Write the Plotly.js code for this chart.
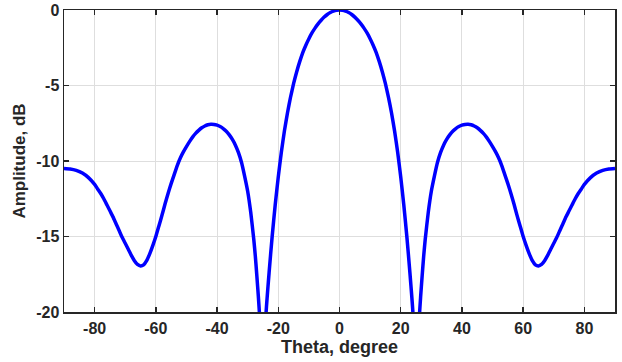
<!DOCTYPE html>
<html>
<head>
<meta charset="utf-8">
<script src="https://cdn.plot.ly/plotly-3.0.1.min.js"></script>
<style>
  html, body { margin: 0; padding: 0; background: #ffffff; }
  #chart { width: 622px; height: 362px; }
</style>
</head>
<body>
<div id="chart"></div>
<script>
// Angle (degrees) and amplitude (dB)
const theta = [
  -90, -88, -86, -84, -82, -80, -79, -78, -77, -76, -75, -74, -73, -72, -71, -70, -69, -68, -67, -66, -65, -64, -63, -62, -61,
  -60, -59, -58, -57, -56, -55, -54, -53, -52, -51, -50, -49, -48, -47, -46, -45, -44, -43, -42, -41,
  -40, -39, -38, -37, -36, -35, -34, -33, -32, -31, -30, -29, -28, -27.5, -27, -26.5, -26, -25.7, -25.4,
  -25, -24.5, -24, -23, -22, -21, -20, -19, -18, -17, -16, -15, -14, -13, -12, -11, -10, -9, -8, -7, -6, -5, -4, -3, -2, -1,
  0,
  1, 2, 3, 4, 5, 6, 7, 8, 9, 10, 11, 12, 13, 14, 15, 16, 17, 18, 19, 20, 21, 22, 23, 24, 24.5, 25,
  25.4, 25.7, 26, 26.5, 27, 27.5, 28, 29, 30, 31, 32, 33, 34, 35, 36, 37, 38, 39, 40,
  41, 42, 43, 44, 45, 46, 47, 48, 49, 50, 51, 52, 53, 54, 55, 56, 57, 58, 59, 60,
  61, 62, 63, 64, 65, 66, 67, 68, 69, 70, 71, 72, 73, 74, 75, 76, 77, 78, 79, 80, 82, 84, 86, 88, 90
];
const amplitudeDb = [
  -10.5, -10.53, -10.62, -10.8, -11.1, -11.55, -11.85, -12.15, -12.5, -12.9, -13.3, -13.7, -14.15, -14.6, -15.05, -15.45, -15.85, -16.25, -16.6, -16.85, -16.95, -16.88, -16.6, -16.15, -15.6,
  -15.0, -14.3, -13.6, -12.85, -12.15, -11.5, -10.9, -10.3, -9.8, -9.4, -9.05, -8.72, -8.42, -8.17, -7.97, -7.8, -7.68, -7.6, -7.57, -7.58,
  -7.63, -7.72, -7.85, -8.03, -8.27, -8.57, -8.95, -9.45, -10.1, -11.0, -12.0, -13.4, -15.2, -16.3, -17.6, -19.0, -20.6, -23, -35,
  -26, -22.8, -20.1, -17.4, -15.0, -12.9, -11.05, -9.42, -8.02, -6.82, -5.78, -4.88, -4.1, -3.42, -2.82, -2.33, -1.9, -1.52, -1.2, -0.92, -0.68, -0.47, -0.3, -0.17, -0.08, -0.02,
  0,
  -0.02, -0.08, -0.17, -0.3, -0.47, -0.68, -0.92, -1.2, -1.52, -1.9, -2.33, -2.82, -3.42, -4.1, -4.88, -5.78, -6.82, -8.02, -9.42, -11.05, -12.9, -15.0, -17.4, -20.1, -22.8, -26,
  -35, -23, -20.6, -19.0, -17.6, -16.3, -15.2, -13.4, -12.0, -11.0, -10.1, -9.45, -8.95, -8.57, -8.27, -8.03, -7.85, -7.72, -7.63,
  -7.58, -7.57, -7.6, -7.68, -7.8, -7.97, -8.17, -8.42, -8.72, -9.05, -9.4, -9.8, -10.3, -10.9, -11.5, -12.15, -12.85, -13.6, -14.3, -15.0,
  -15.6, -16.15, -16.6, -16.88, -16.95, -16.85, -16.6, -16.25, -15.85, -15.45, -15.05, -14.6, -14.15, -13.7, -13.3, -12.9, -12.5, -12.15, -11.85, -11.55, -11.1, -10.8, -10.62, -10.53, -10.5
];
const xTicks = [-80, -60, -40, -20, 0, 20, 40, 60, 80];
const yTicks = [-20, -15, -10, -5, 0];

const axisColor = '#262626';
const gridColor = '#dedede';
const fontFamily = 'Liberation Sans, Arial, Helvetica, sans-serif';

const trace = {
  x: theta,
  y: amplitudeDb,
  type: 'scatter',
  mode: 'lines',
  line: { color: '#0000ff', width: 3.5, shape: 'spline', smoothing: 0.5 },
  hoverinfo: 'skip'
};

const layout = {
  width: 622,
  height: 362,
  margin: { l: 64, r: 7, t: 10, b: 50 },
  paper_bgcolor: '#ffffff',
  plot_bgcolor: '#ffffff',
  showlegend: false,
  font: { family: fontFamily, color: axisColor },
  xaxis: {
    range: [-90, 90],
    tickvals: xTicks,
    ticktext: xTicks.map(String),
    showgrid: true,
    gridcolor: gridColor,
    gridwidth: 1,
    zeroline: false,
    showline: true,
    linecolor: axisColor,
    linewidth: 1.5,
    mirror: 'ticks',
    ticks: 'inside',
    ticklen: 5,
    tickwidth: 1.5,
    tickcolor: axisColor,
    ticklabelstandoff: 1,
    tickfont: { family: fontFamily, size: 16, color: axisColor, weight: 'bold' },
    title: { text: 'Theta, degree', font: { family: fontFamily, size: 18, color: axisColor, weight: 'bold' }, standoff: 2 }
  },
  yaxis: {
    range: [-20, 0],
    tickvals: yTicks,
    ticktext: yTicks.map(String),
    showgrid: true,
    gridcolor: gridColor,
    gridwidth: 1,
    zeroline: false,
    showline: true,
    linecolor: axisColor,
    linewidth: 1.5,
    mirror: 'ticks',
    ticks: 'inside',
    ticklen: 5,
    tickwidth: 1.5,
    tickcolor: axisColor,
    tickfont: { family: fontFamily, size: 16, color: axisColor, weight: 'bold' },
    title: { text: 'Amplitude, dB', font: { family: fontFamily, size: 17, color: axisColor, weight: 'bold' }, standoff: 6 }
  }
};

Plotly.newPlot('chart', [trace], layout, { staticPlot: true, displayModeBar: false });
</script>
</body>
</html>
